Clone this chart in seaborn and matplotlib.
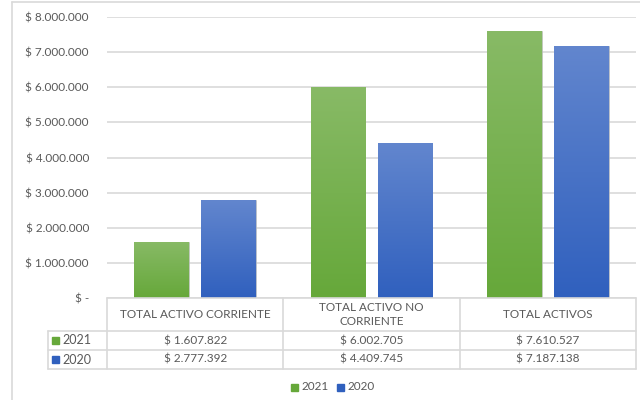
import numpy as np
import pandas as pd
import matplotlib
matplotlib.use("Agg")
import matplotlib.pyplot as plt
import seaborn as sns
from matplotlib.colors import LinearSegmentedColormap
from matplotlib.lines import Line2D
from matplotlib.patches import Rectangle

categories = ["TOTAL ACTIVO CORRIENTE", "TOTAL ACTIVO NO\nCORRIENTE", "TOTAL ACTIVOS"]
series_names = ["2021", "2020"]
values_2021 = [1607822, 6002705, 7610527]
values_2020 = [2777392, 4409745, 7187138]
yticks = [0, 1000000, 2000000, 3000000, 4000000, 5000000, 6000000, 7000000, 8000000]

green_top, green_bot = "#88BA66", "#66A83A"
blue_top, blue_bot = "#6286CE", "#3060BE"
txt = "#595959"
grid = "#D9D9D9"
FONT = "Lato"

def fmt(v):
    if v == 0:
        return "$ -"
    return "$ " + f"{v:,}".replace(",", ".")

df = pd.DataFrame({
    "cat": categories * 2,
    "year": [series_names[0]] * 3 + [series_names[1]] * 3,
    "val": values_2021 + values_2020,
})

sns.set_theme(style="white")
plt.rcParams["font.family"] = [FONT, "DejaVu Sans"]

W, H = 640, 400
fig = plt.figure(figsize=(6.4, 4.0), dpi=100)
L, R, T, B = 107, 636, 17, 298
ax = fig.add_axes([L / W, 1 - B / H, (R - L) / W, (B - T) / H])

sns.barplot(data=df, x="cat", y="val", hue="year", hue_order=series_names,
            order=categories, palette=[green_bot, blue_bot], width=0.76, gap=0.18,
            ax=ax, legend=False, edgecolor="#C8C8C8", linewidth=0.5, zorder=3)

ax.set_xlim(-0.5, 2.5)
ax.set_ylim(0, 8000000)

# gradient overlay on bars
cmaps = {green_bot: LinearSegmentedColormap.from_list("g", [green_bot, green_top]),
         blue_bot: LinearSegmentedColormap.from_list("b", [blue_bot, blue_top])}
grad = np.linspace(0, 1, 256).reshape(-1, 1)
for i, p in enumerate(ax.patches):
    x0, y0 = p.get_x(), p.get_y()
    w, h = p.get_width(), p.get_height()
    cm = cmaps[green_bot] if i < 3 else cmaps[blue_bot]
    im = ax.imshow(grad, extent=[x0, x0 + w, y0, y0 + h], origin="lower", aspect="auto",
                   cmap=cm, zorder=3.5)
    im.set_clip_path(p)
ax.set_xlim(-0.5, 2.5)
ax.set_ylim(0, 8000000)

ax.set_yticks(yticks)
ax.set_yticklabels([fmt(v) for v in yticks], color=txt, fontsize=8.5)
ax.tick_params(axis="y", length=0, pad=13)
ax.set_xticks([])
ax.set_xlabel("")
ax.set_ylabel("")
for s in ax.spines.values():
    s.set_visible(False)
ax.yaxis.grid(True, color=grid, linewidth=1.2, zorder=0)
ax.set_axisbelow(True)

# data table (figure pixel coords)
def fx(x):
    return x / W
def fy(y):
    return 1 - y / H
def hline(x1, x2, y):
    fig.add_artist(Line2D([fx(x1), fx(x2)], [fy(y), fy(y)], color=grid, lw=1.2))
def vline(x, y1, y2):
    fig.add_artist(Line2D([fx(x), fx(x)], [fy(y1), fy(y2)], color=grid, lw=1.2))

LBL = 48
rows_y = [298, 331, 350, 369]
colw = (R - L) / 3
cols_x = [L + colw * i for i in range(4)]
hline(L, R, rows_y[0])
for y in rows_y[1:]:
    hline(LBL, R, y)
vline(LBL, rows_y[1], rows_y[3])
for x in cols_x:
    vline(x, rows_y[0], rows_y[3])

for i, c in enumerate(categories):
    cx = (cols_x[i] + cols_x[i + 1]) / 2
    fig.text(fx(cx), fy((rows_y[0] + rows_y[1]) / 2), c, ha="center", va="center",
             color=txt, fontsize=8.5, linespacing=1.4)
    fig.text(fx(cx), fy((rows_y[1] + rows_y[2]) / 2), fmt(values_2021[i]), ha="center",
             va="center", color=txt, fontsize=8.5)
    fig.text(fx(cx), fy((rows_y[2] + rows_y[3]) / 2), fmt(values_2020[i]), ha="center",
             va="center", color=txt, fontsize=8.5)

for j, (name, col) in enumerate(zip(series_names, [green_bot, blue_bot])):
    yc = (rows_y[1 + j] + rows_y[2 + j]) / 2
    fig.add_artist(Rectangle((fx(52), fy(yc + 3.5)), 7 / W, 7 / H, color=col))
    fig.text(fx(62), fy(yc), name, ha="left", va="center", color=txt, fontsize=9)

# legend
leg_y = 387
for name, col, x in zip(series_names, [green_bot, blue_bot], [291, 337]):
    fig.add_artist(Rectangle((fx(x), fy(leg_y + 3.5)), 7 / W, 7 / H, color=col))
    fig.text(fx(x + 10), fy(leg_y), name, ha="left", va="center", color=txt, fontsize=8.5)

# chart area border
fig.add_artist(Line2D([fx(12), fx(12)], [fy(2), fy(400)], color=grid, lw=1.2))
fig.add_artist(Line2D([fx(12), fx(640)], [fy(2), fy(2)], color=grid, lw=1.2))

fig.savefig("out.png", dpi=100)
